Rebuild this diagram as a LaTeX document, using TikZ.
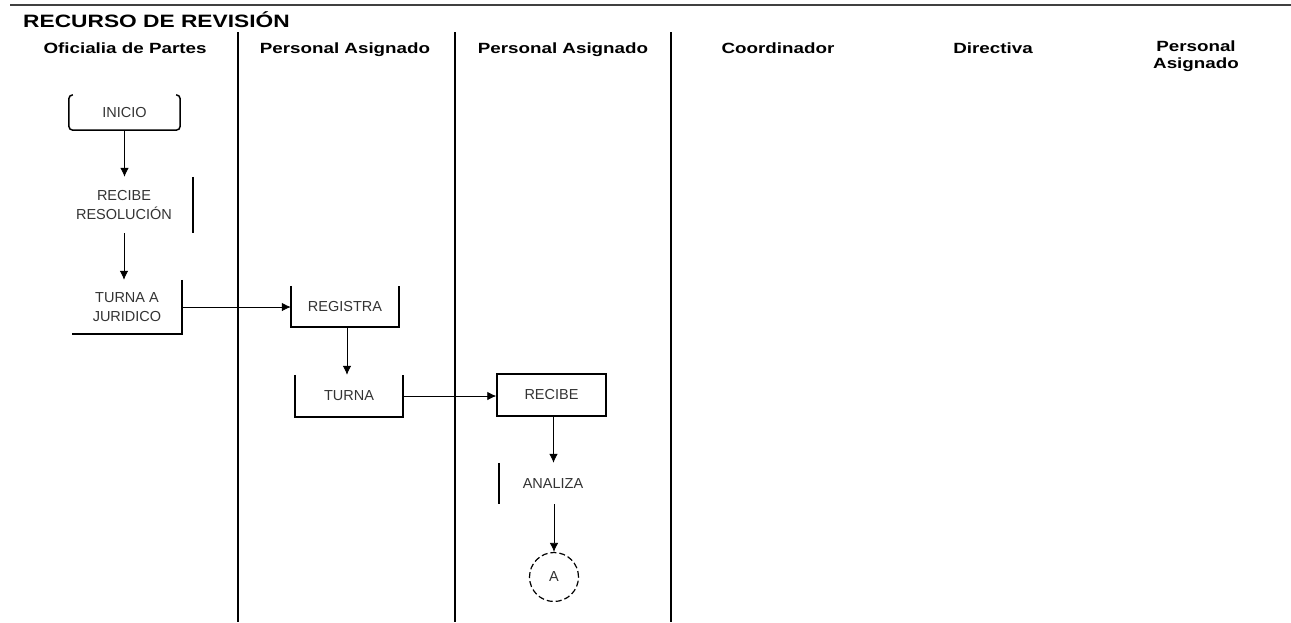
\documentclass[tikz,border=0pt]{standalone}
\usepackage{fontspec}
\setmainfont{Liberation Sans}
\newfontfamily\anchafont[FakeStretch=1.27]{Liberation Sans}
\usetikzlibrary{arrows.meta}

\begin{document}
\begin{tikzpicture}[x=1pt, y=-1pt,
		caja/.style={inner sep=0pt, align=center, text=black!80, font=\fontsize{14.5}{18.5}\selectfont},
		borde/.style={line width=1.5pt},
		carril/.style={line width=1.8pt},
		encabezado/.style={anchor=base, align=center, font=\anchafont\bfseries\fontsize{14.8}{17}\selectfont},
		flecha/.style={-{Latex[length=9pt,width=8.5pt]}, line width=0.8pt}]
		\useasboundingbox (0,0) rectangle (1291,622);
		
		% cabecera
		\draw[line width=2.5pt, black!75] (10,5) -- (1291,5);
		\node (titulo) at (23,27) [anchor=base west, inner sep=0pt, font=\anchafont\bfseries\fontsize{17.9}{20}\selectfont] {RECURSO DE REVISIÓN};
		\node (h_oficialia) at (125,53) [encabezado] {Oficialia de Partes};
		\node (h_personal1) at (345,53) [encabezado] {Personal Asignado};
		\node (h_personal2) at (563,53) [encabezado] {Personal Asignado};
		\node (h_coord) at (778,53) [encabezado] {Coordinador};
		\node (h_directiva) at (993,53) [encabezado] {Directiva};
		\node (h_personal3) at (1196,68) [encabezado] {Personal\\Asignado};
		\foreach \x in {238,455,671}
			\draw[carril] (\x,32) -- (\x,622);
		
		% pasos
		\node (inicio) at (124.5,112.5) [caja, minimum width=111pt, minimum height=35pt] {INICIO};
		\node (recibe_res) at (124,205) [caja, minimum width=138pt, minimum height=56pt] {RECIBE\\RESOLUCIÓN};
		\node (turna_jur) at (127,307) [caja, minimum width=110pt, minimum height=54pt] {TURNA A\\JURIDICO};
		\node (registra) at (345,306.5) [caja, minimum width=108pt, minimum height=41pt] {REGISTRA};
		\node (turna) at (349,396) [caja, minimum width=108pt, minimum height=42pt] {TURNA};
		\node (recibe) at (551.5,395) [caja, draw, line width=1.4pt, minimum width=109pt, minimum height=42pt] {RECIBE};
		\node (analiza) at (553,483.5) [caja, minimum width=108pt, minimum height=41pt] {ANALIZA};
		\node (A) at (554,577) [caja, circle, draw, dashed, dash pattern=on 6pt off 3pt, line width=1.2pt, minimum size=49pt] {A};
		
		% bordes visibles
		\draw[borde, rounded corners=4pt] ([xshift=4pt]inicio.north west) -- (inicio.north west) -- (inicio.south west) -- (inicio.south east) -- (inicio.north east) -- ([xshift=-4pt]inicio.north east);
		\draw[borde] (recibe_res.north east) -- (recibe_res.south east);
		\draw[borde] (turna_jur.north east) -- (turna_jur.south east) -- (turna_jur.south west);
		\draw[borde] (registra.north west) -- (registra.south west) -- (registra.south east) -- (registra.north east);
		\draw[borde] (turna.north west) -- (turna.south west) -- (turna.south east) -- (turna.north east);
		\draw[borde] (analiza.north west) -- (analiza.south west);
		
		% flujo
		\draw[flecha] (inicio.south) -- (inicio.south |- recibe_res.north);
		\draw[flecha] (recibe_res.south) -- (recibe_res.south |- turna_jur.north);
		\draw[flecha] (turna_jur.east) -- (turna_jur.east -| registra.west);
		\draw[flecha] ([xshift=2pt]registra.south) -- ([xshift=2pt]registra.south |- turna.north);
		\draw[flecha] (turna.east) -- (turna.east -| recibe.west);
		\draw[flecha] ([xshift=2pt]recibe.south) -- ([xshift=2pt]recibe.south |- analiza.north);
		\draw[flecha] (analiza.south -| A.north) -- (A.north);
	\end{tikzpicture}
\end{document}
